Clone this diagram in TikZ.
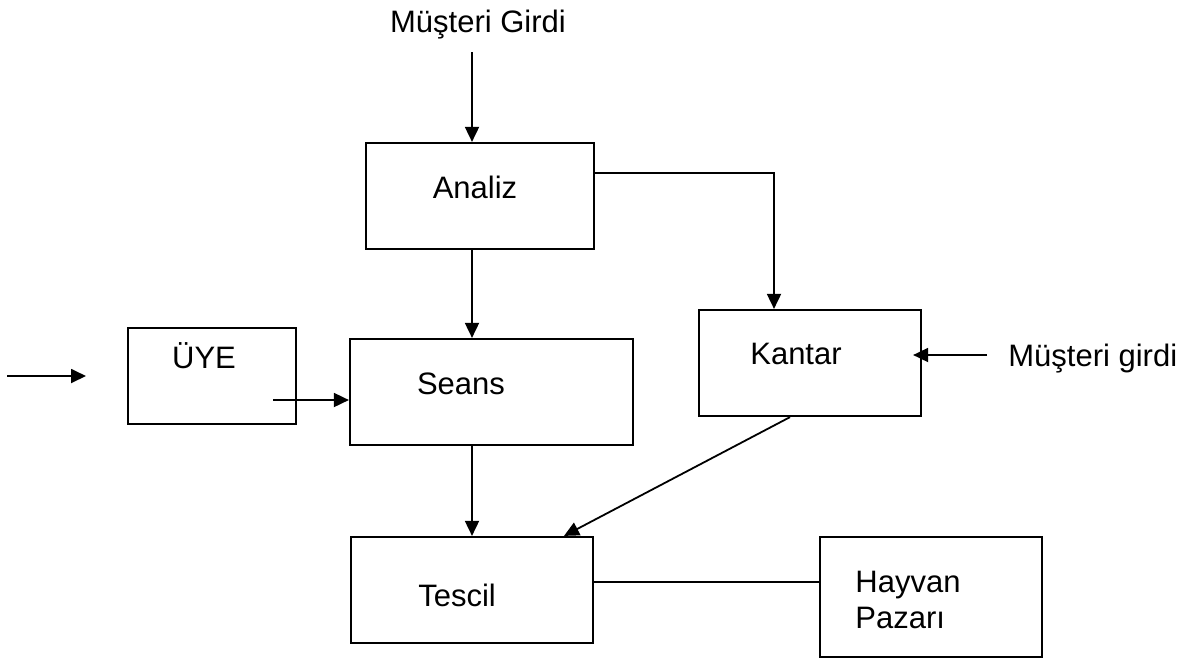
\documentclass[tikz,border=0pt]{standalone}
\usepackage{fontspec}
\setmainfont{Liberation Sans}
\usetikzlibrary{arrows.meta,calc}

\begin{document}
\begin{tikzpicture}[auto, x=0.5pt, y=-0.5pt,
    blok/.style={draw, line width=1.1pt, inner sep=0pt},
    yazi/.style={font=\fontsize{15.5}{18}\selectfont, inner sep=0pt, anchor=base},
    ok/.style={-{Triangle[length=7.5pt,width=7pt]}, line width=0.9pt}]
    \useasboundingbox (0,0) rectangle (1187,659);
    % kutular
    \node[blok, minimum width=114pt, minimum height=53pt] (analiz) at (480,196) {};
    \node[blok, minimum width=84pt, minimum height=48pt] (uye) at (212,376) {};
    \node[blok, minimum width=141.5pt, minimum height=53pt] (seans) at (491.5,392) {};
    \node[blok, minimum width=111pt, minimum height=53pt] (kantar) at (810,363) {};
    \node[blok, minimum width=121pt, minimum height=53pt] (tescil) at (472,590) {};
    \node[blok, minimum width=111pt, minimum height=60pt] (pazar) at (931,597) {};
    % yazilar
    \node[yazi] (girdi1) at (478,32) {Müşteri Girdi};
    \node[yazi] (analizt) at (475,198) {Analiz};
    \node[yazi] (uyet) at (204,368) {ÜYE};
    \node[yazi] (seanst) at (461,394) {Seans};
    \node[yazi] (kantart) at (796,364) {Kantar};
    \node[yazi, anchor=base west] (girdi2) at (1008,366) {Müşteri girdi};
    \node[yazi] (tescilt) at (457,606) {Tescil};
    \node[yazi, anchor=base west, align=left] (pazart) at (855,628) {Hayvan\\Pazarı};
    % oklar
    \coordinate (g1) at (472,52);
    \coordinate (u1) at (7,376);
    \coordinate (u2) at (86,376);
    \coordinate (g2) at (987,355);
    \draw [ok] (g1) -- (g1 |- analiz.north);
    \draw [ok] ($(analiz.east)+(0,-23)$) -| ($(kantar.north)+(-36,0)$);
    \draw [ok] ($(analiz.south)+(-8,0)$) -- ($(analiz.south |- seans.north)+(-8,0)$);
    \draw [ok] (u1) -- (u2);
    \draw [ok] ($(uye.east)+(-24,24)$) -- ($(seans.west |- uye.east)+(0,24)$);
    \draw [ok] (g2) -- ($(kantar.east |- g2)+(-9,0)$);
    \draw [ok] (tescil.north |- seans.south) -- (tescil.north);
    \draw [ok] ($(kantar.south)+(-20,0)$) -- ($(tescil.north)+(92,0)$);
    \draw [line width=0.9pt] ($(tescil.east)+(0,-8)$) -- ($(pazar.west)+(0,-15)$);
\end{tikzpicture}
\end{document}
